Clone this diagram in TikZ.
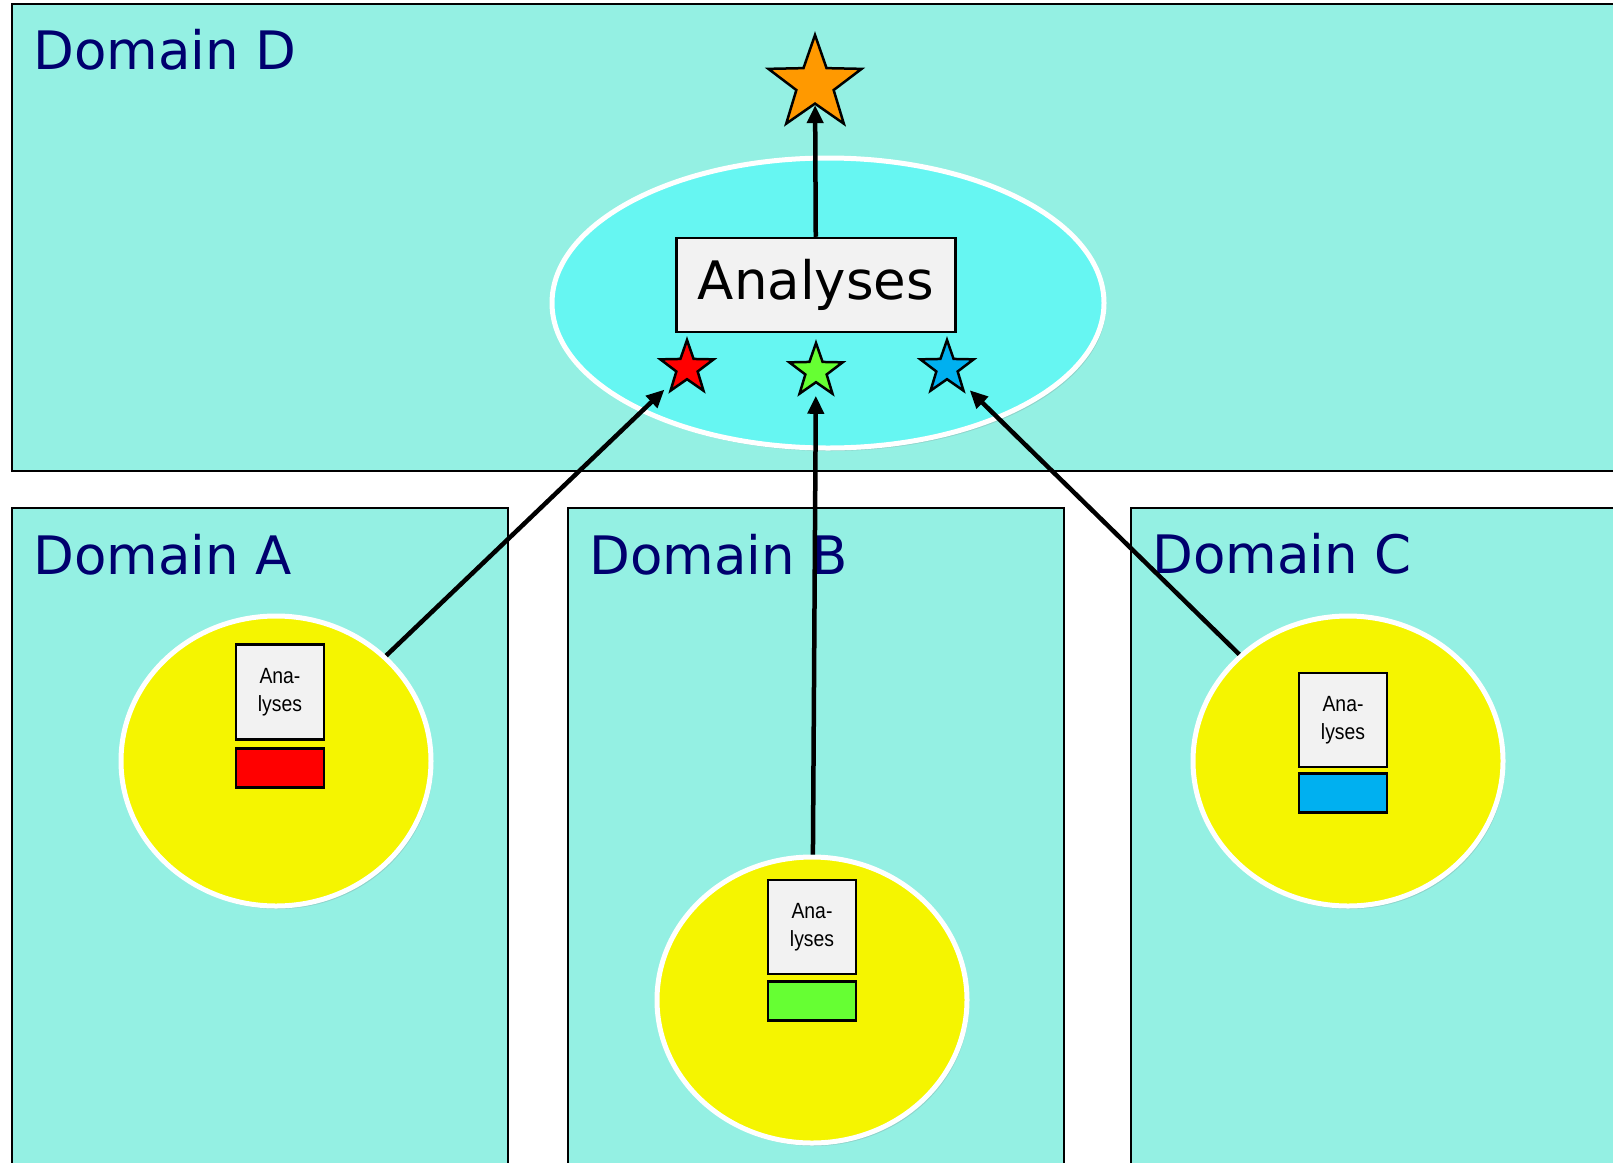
\documentclass[tikz,border=0pt]{standalone}
\usepackage{fontspec}
\setmainfont{DejaVu Sans}
\newfontfamily\narrowfont[FakeStretch=0.88]{Liberation Sans}
\usetikzlibrary{shapes.geometric,arrows.meta,shadows}

\definecolor{domainfill}{RGB}{148,240,227}
\definecolor{poolfill}{RGB}{102,246,242}
\definecolor{circfill}{RGB}{245,245,0}
\definecolor{labelnavy}{RGB}{0,0,110}
\definecolor{boxfill}{RGB}{242,242,242}
\definecolor{starred}{RGB}{255,0,0}
\definecolor{stargreen}{RGB}{102,255,51}
\definecolor{starblue}{RGB}{0,176,240}
\definecolor{starorange}{RGB}{255,153,0}

\tikzset{every picture/.style={line width=0.75pt}}
\tikzset{
  domainbox/.style={draw=black,fill=domainfill,line width=2pt},
  domlabel/.style={anchor=base west,inner sep=0pt,text=labelnavy,font=\fontsize{53}{60}\selectfont},
  pool/.style={ellipse,draw=white,line width=5pt,inner sep=0pt,
    drop shadow={opacity=0.25,shadow xshift=2pt,shadow yshift=-3pt}},
  anabox/.style={draw=black,fill=boxfill,line width=2.5pt,inner sep=0pt},
  tagbox/.style={draw=black,line width=2.5pt,inner sep=0pt,minimum width=88,minimum height=39},
  starmark/.style={star,star points=5,star point ratio=2.5,draw=black,line width=2.5pt,inner sep=0pt},
  conn/.style={draw=black,line width=4.5pt,-{Triangle[length=18pt,width=16pt]}}
}

\begin{document}
\begin{tikzpicture}[x=1pt,y=1pt,yscale=-1,xscale=1]
\useasboundingbox (0,0) rectangle (1613,1162);
\clip (0,0) rectangle (1613,1162);

% Domains
\draw[domainbox] (12,4) rectangle (1650,471);
\draw[domainbox] (12,508) rectangle (508,1200);
\draw[domainbox] (568,508) rectangle (1064,1200);
\draw[domainbox] (1131,508) rectangle (1650,1200);

% Text Node
\node[domlabel] (labD) at (33,69) {Domain D};
\node[domlabel] (labA) at (33,574) {Domain A};
\node[domlabel] (labB) at (589,574) {Domain B};
\node[domlabel] (labC) at (1152,573) {Domain C};

% Domain D pool
\node[pool,fill=poolfill,minimum width=552,minimum height=290] (poolD) at (828,303) {};
\node[anabox,minimum width=279,minimum height=94,font=\fontsize{53}{60}\selectfont] (anaD) at (816,285) {Analyses};
\node[starmark,fill=starorange,minimum size=98] (starO) at (815,84) {};
\node[starmark,fill=starred,minimum size=56] (starR) at (687,368) {};
\node[starmark,fill=stargreen,minimum size=56] (starG) at (816,371) {};
\node[starmark,fill=starblue,minimum size=56] (starB) at (947,368) {};

% Domain A, B, C circles
\node[pool,fill=circfill,minimum width=310,minimum height=290] (circA) at (276,761) {};
\node[pool,fill=circfill,minimum width=310,minimum height=286] (circB) at (812,1000) {};
\node[pool,fill=circfill,minimum width=310,minimum height=290] (circC) at (1348,761) {};

% Text Node
\node[anabox,minimum width=88,minimum height=95,align=center,font=\narrowfont\fontsize{22}{28}\selectfont] (anaA) at (280,692) {Ana-\\lyses};
\node[tagbox,fill=starred] (tagA) at (280,768) {};
\node[anabox,minimum width=88,minimum height=94,align=center,font=\narrowfont\fontsize{22}{28}\selectfont] (anaB) at (812,927) {Ana-\\lyses};
\node[tagbox,fill=stargreen] (tagB) at (812,1001) {};
\node[anabox,minimum width=88,minimum height=94,align=center,font=\narrowfont\fontsize{22}{28}\selectfont] (anaC) at (1343,720) {Ana-\\lyses};
\node[tagbox,fill=starblue] (tagC) at (1343,793) {};

% Connection
\draw[conn] (anaD) -- (starO);
\draw[conn,shorten >=10pt] (circA) -- (starR);
\draw[conn,shorten >=12pt] (circB) -- (starG);
\draw[conn,shorten >=10pt] (circC) -- (starB);

\end{tikzpicture}
\end{document}
